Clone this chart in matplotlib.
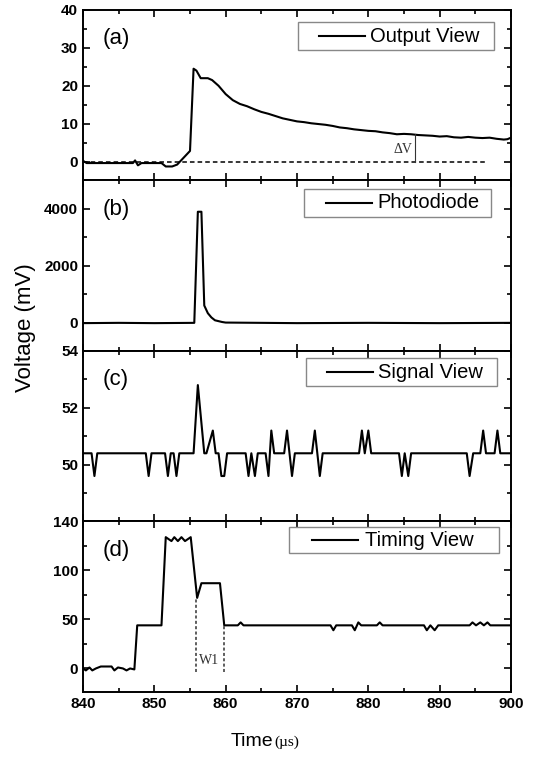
import matplotlib.pyplot as plt
from matplotlib.ticker import MultipleLocator
from matplotlib.patches import Rectangle
from matplotlib.lines import Line2D

plt.rcParams['font.family'] = ['Liberation Sans', 'DejaVu Sans']

# (a) Output View
t_a = [840, 840.5, 847.0, 847.3, 847.7, 848.2, 851.0, 851.6, 852.5, 853.2, 854.0, 855.0,
       855.5, 855.9, 856.5, 857.5, 858.1, 859.0, 860, 861, 862, 863, 864, 865, 866, 867,
       868, 869, 870, 871, 872, 873, 874, 875, 876, 877, 878, 879, 880, 881, 882, 883, 884,
       885, 886, 887, 888, 889, 890, 891, 892, 893, 894, 895, 896, 897, 898, 899, 899.5, 900]
v_a = [0.2, -0.4, -0.4, 0.3, -1.0, -0.4, -0.4, -1.3, -1.3, -0.8, 0.8, 2.8,
       24.5, 24.0, 22.0, 22.0, 21.5, 20.0, 17.8, 16.2, 15.2, 14.6, 13.8, 13.1, 12.6, 12.0,
       11.4, 11.0, 10.6, 10.4, 10.1, 9.9, 9.7, 9.4, 9.0, 8.8, 8.5, 8.3, 8.1, 8.0, 7.7, 7.5, 7.2,
       7.3, 7.2, 7.0, 6.9, 6.8, 6.6, 6.7, 6.4, 6.3, 6.5, 6.3, 6.2, 6.3, 6.0, 5.8, 5.9, 6.3]
dv_t = 886.6
dv_top = 7.2
base_end = 896.4

# (b) Photodiode
t_b = [840, 845, 850, 855.6, 856.1, 856.6, 857.0, 857.5, 858.0, 858.5, 859.5, 860, 870, 880, 890, 900]
v_b = [-20, -10, -20, -10, 3900, 3900, 600, 330, 180, 80, 20, 0, -20, -10, -20, -10]

# (c) Signal View
t_c = [840, 841.2, 841.6, 842.0, 848.8, 849.2, 849.6, 850.0, 851.5, 851.9, 852.3, 852.7, 853.1,
       853.5, 855.5, 856.1, 857.0, 857.3, 858.2, 858.6, 859.0, 859.4, 859.8, 860.2, 862.8,
       863.2, 863.6, 864.1, 864.5, 865.6, 866.0, 866.4, 866.8, 868.2, 868.6, 869.3, 869.7,
       872.1, 872.5, 873.2, 873.6, 878.7, 879.1, 879.5, 880.0, 880.4, 884.3, 884.7, 885.1,
       885.6, 886.0, 893.8, 894.2, 894.7, 895.7, 896.1, 896.5, 897.7, 898.1, 898.5, 900]
v_c = [50.4, 50.4, 49.6, 50.4, 50.4, 49.6, 50.4, 50.4, 50.4, 49.6, 50.4, 50.4, 49.6,
       50.4, 50.4, 52.8, 50.4, 50.4, 51.2, 50.4, 50.4, 49.6, 49.6, 50.4, 50.4,
       49.6, 50.4, 49.6, 50.4, 50.4, 49.6, 51.2, 50.4, 50.4, 51.2, 49.6, 50.4,
       50.4, 51.2, 49.6, 50.4, 50.4, 51.2, 50.4, 51.2, 50.4, 50.4, 49.6, 50.4,
       49.6, 50.4, 50.4, 49.6, 50.4, 50.4, 51.2, 50.4, 50.4, 51.2, 50.4, 50.4]

# (d) Timing View
t_d = [840, 840.4, 840.9, 841.3, 841.8, 842.5, 844.0, 844.4, 844.9, 845.6, 846.1, 846.6, 847.2,
       847.6, 851.0, 851.6, 852.4, 852.8, 853.3, 853.8, 854.3, 855.1, 856.0, 856.6, 859.2,
       859.8, 861.7, 862.1, 862.5, 874.7, 875.1, 875.5, 877.7, 878.1, 878.6, 879.0, 881.2,
       881.6, 882.0, 887.8, 888.2, 888.7, 889.3, 889.8, 894.2, 894.6, 895.1, 895.7, 896.2,
       896.7, 897.1, 900]
v_d = [0, -2, 1, -2, 0, 2, 2, -2, 1, 0, -2, 0, -1,
       44, 44, 134, 130, 134, 130, 134, 130, 134, 72, 87, 87,
       44, 44, 47, 44, 44, 39, 44, 44, 39, 47, 44, 44,
       47, 44, 44, 39, 44, 39, 44, 44, 47, 44, 47, 44,
       47, 44, 44]
w1_t = [855.8, 859.8]
w1_top = [72, 44]

ylims = [(-5, 40), (-1000, 5000), (48, 54), (-24, 150)]
yticks = [[0, 10, 20, 30, 40], [0, 2000, 4000], [50, 52, 54], [0, 50, 100, 150]]
ylabels = [['0', '10', '20', '30', '40'], ['0', '2000', '4000'], ['50', '52', '54'],
           ['0', '50', '100', '140']]
yminor = [5, 1000, 1, 25]
names = ['Output View', 'Photodiode', 'Signal View', 'Timing View']
tags = ['(a)', '(b)', '(c)', '(d)']

# legend boxes in figure pixels: box x0, x1, y0, y1, handle x0, x1, text x
leg_px = [(298, 494, 22, 50, 319, 365, 370),
          (304, 491, 189, 217, 326, 372, 377),
          (306, 497, 358, 386, 327, 373, 378),
          (289, 499, 527, 553, 312, 358, 365)]
W, H = 544, 757

fig = plt.figure(figsize=(5.44, 7.57), dpi=100)
gs = fig.add_gridspec(4, 1, left=0.1526, right=0.9393, top=0.9868, bottom=0.0859, hspace=0)
axes = [fig.add_subplot(gs[i]) for i in range(4)]

data = [(t_a, v_a), (t_b, v_b), (t_c, v_c), (t_d, v_d)]
for i, ax in enumerate(axes):
    t, v = data[i]
    ax.plot(t, v, color='black', lw=1.5)
    ax.set_xlim(840, 900)
    ax.set_ylim(*ylims[i])
    ax.set_yticks(yticks[i], labels=ylabels[i])
    ax.yaxis.set_minor_locator(MultipleLocator(yminor[i]))
    ax.xaxis.set_major_locator(MultipleLocator(10))
    ax.xaxis.set_minor_locator(MultipleLocator(5))
    ax.tick_params(which='both', direction='in', top=True, right=True, width=1.2)
    ax.tick_params(which='major', length=5, labelsize=11)
    ax.tick_params(which='minor', length=3)
    for lab in ax.get_yticklabels() + ax.get_xticklabels():
        lab.set_fontweight('bold')
    for s in ax.spines.values():
        s.set_linewidth(1.4)
    if i < 3:
        ax.tick_params(labelbottom=False)
    ax.text(0.045, 0.83, tags[i], transform=ax.transAxes, fontsize=16, va='center', ha='left')

    # legend drawn as a box, a line and a label
    bx0, bx1, by0, by1, hx0, hx1, tx = leg_px[i]
    ym = (by0 + by1) / 2
    fig.add_artist(Rectangle((bx0 / W, 1 - by1 / H), (bx1 - bx0) / W, (by1 - by0) / H,
                             transform=fig.transFigure, facecolor='white',
                             edgecolor='#888888', lw=1.0))
    fig.add_artist(Line2D([hx0 / W, hx1 / W], [1 - ym / H, 1 - ym / H],
                          transform=fig.transFigure, color='black', lw=1.5))
    fig.text(tx / W, 1 - ym / H, names[i], fontsize=14.5, ha='left', va='center')

# annotations in (a)
axes[0].plot([840, base_end], [0, 0], color='black', lw=1.1, ls=(0, (3, 2)))
axes[0].plot([dv_t, dv_t], [0, dv_top], color='#333333', lw=0.8)
axes[0].text(dv_t - 0.4, 3.3, '\u0394V', family=['Liberation Serif', 'DejaVu Serif'],
             fontsize=10, color='#333333', ha='right', va='center')

# annotations in (d)
for x, top in zip(w1_t, w1_top):
    axes[3].plot([x, x], [-4, top], color='#333333', lw=1.1, ls=(0, (2, 1.5)))
axes[3].text(856.2, 8, 'W1', family=['Liberation Serif', 'DejaVu Serif'],
             fontsize=10, color='#333333', ha='left', va='center')

fig.text(0.046, 0.567, 'Voltage (mV)', rotation=90, fontsize=16, ha='center', va='center')
fig.text(0.502, 0.021, 'Time', fontsize=14, ha='right', va='center')
fig.text(0.505, 0.019, '(\u00b5s)', family=['Liberation Serif', 'DejaVu Serif'],
         fontsize=11, ha='left', va='center')

fig.savefig('out.png', dpi=100)
